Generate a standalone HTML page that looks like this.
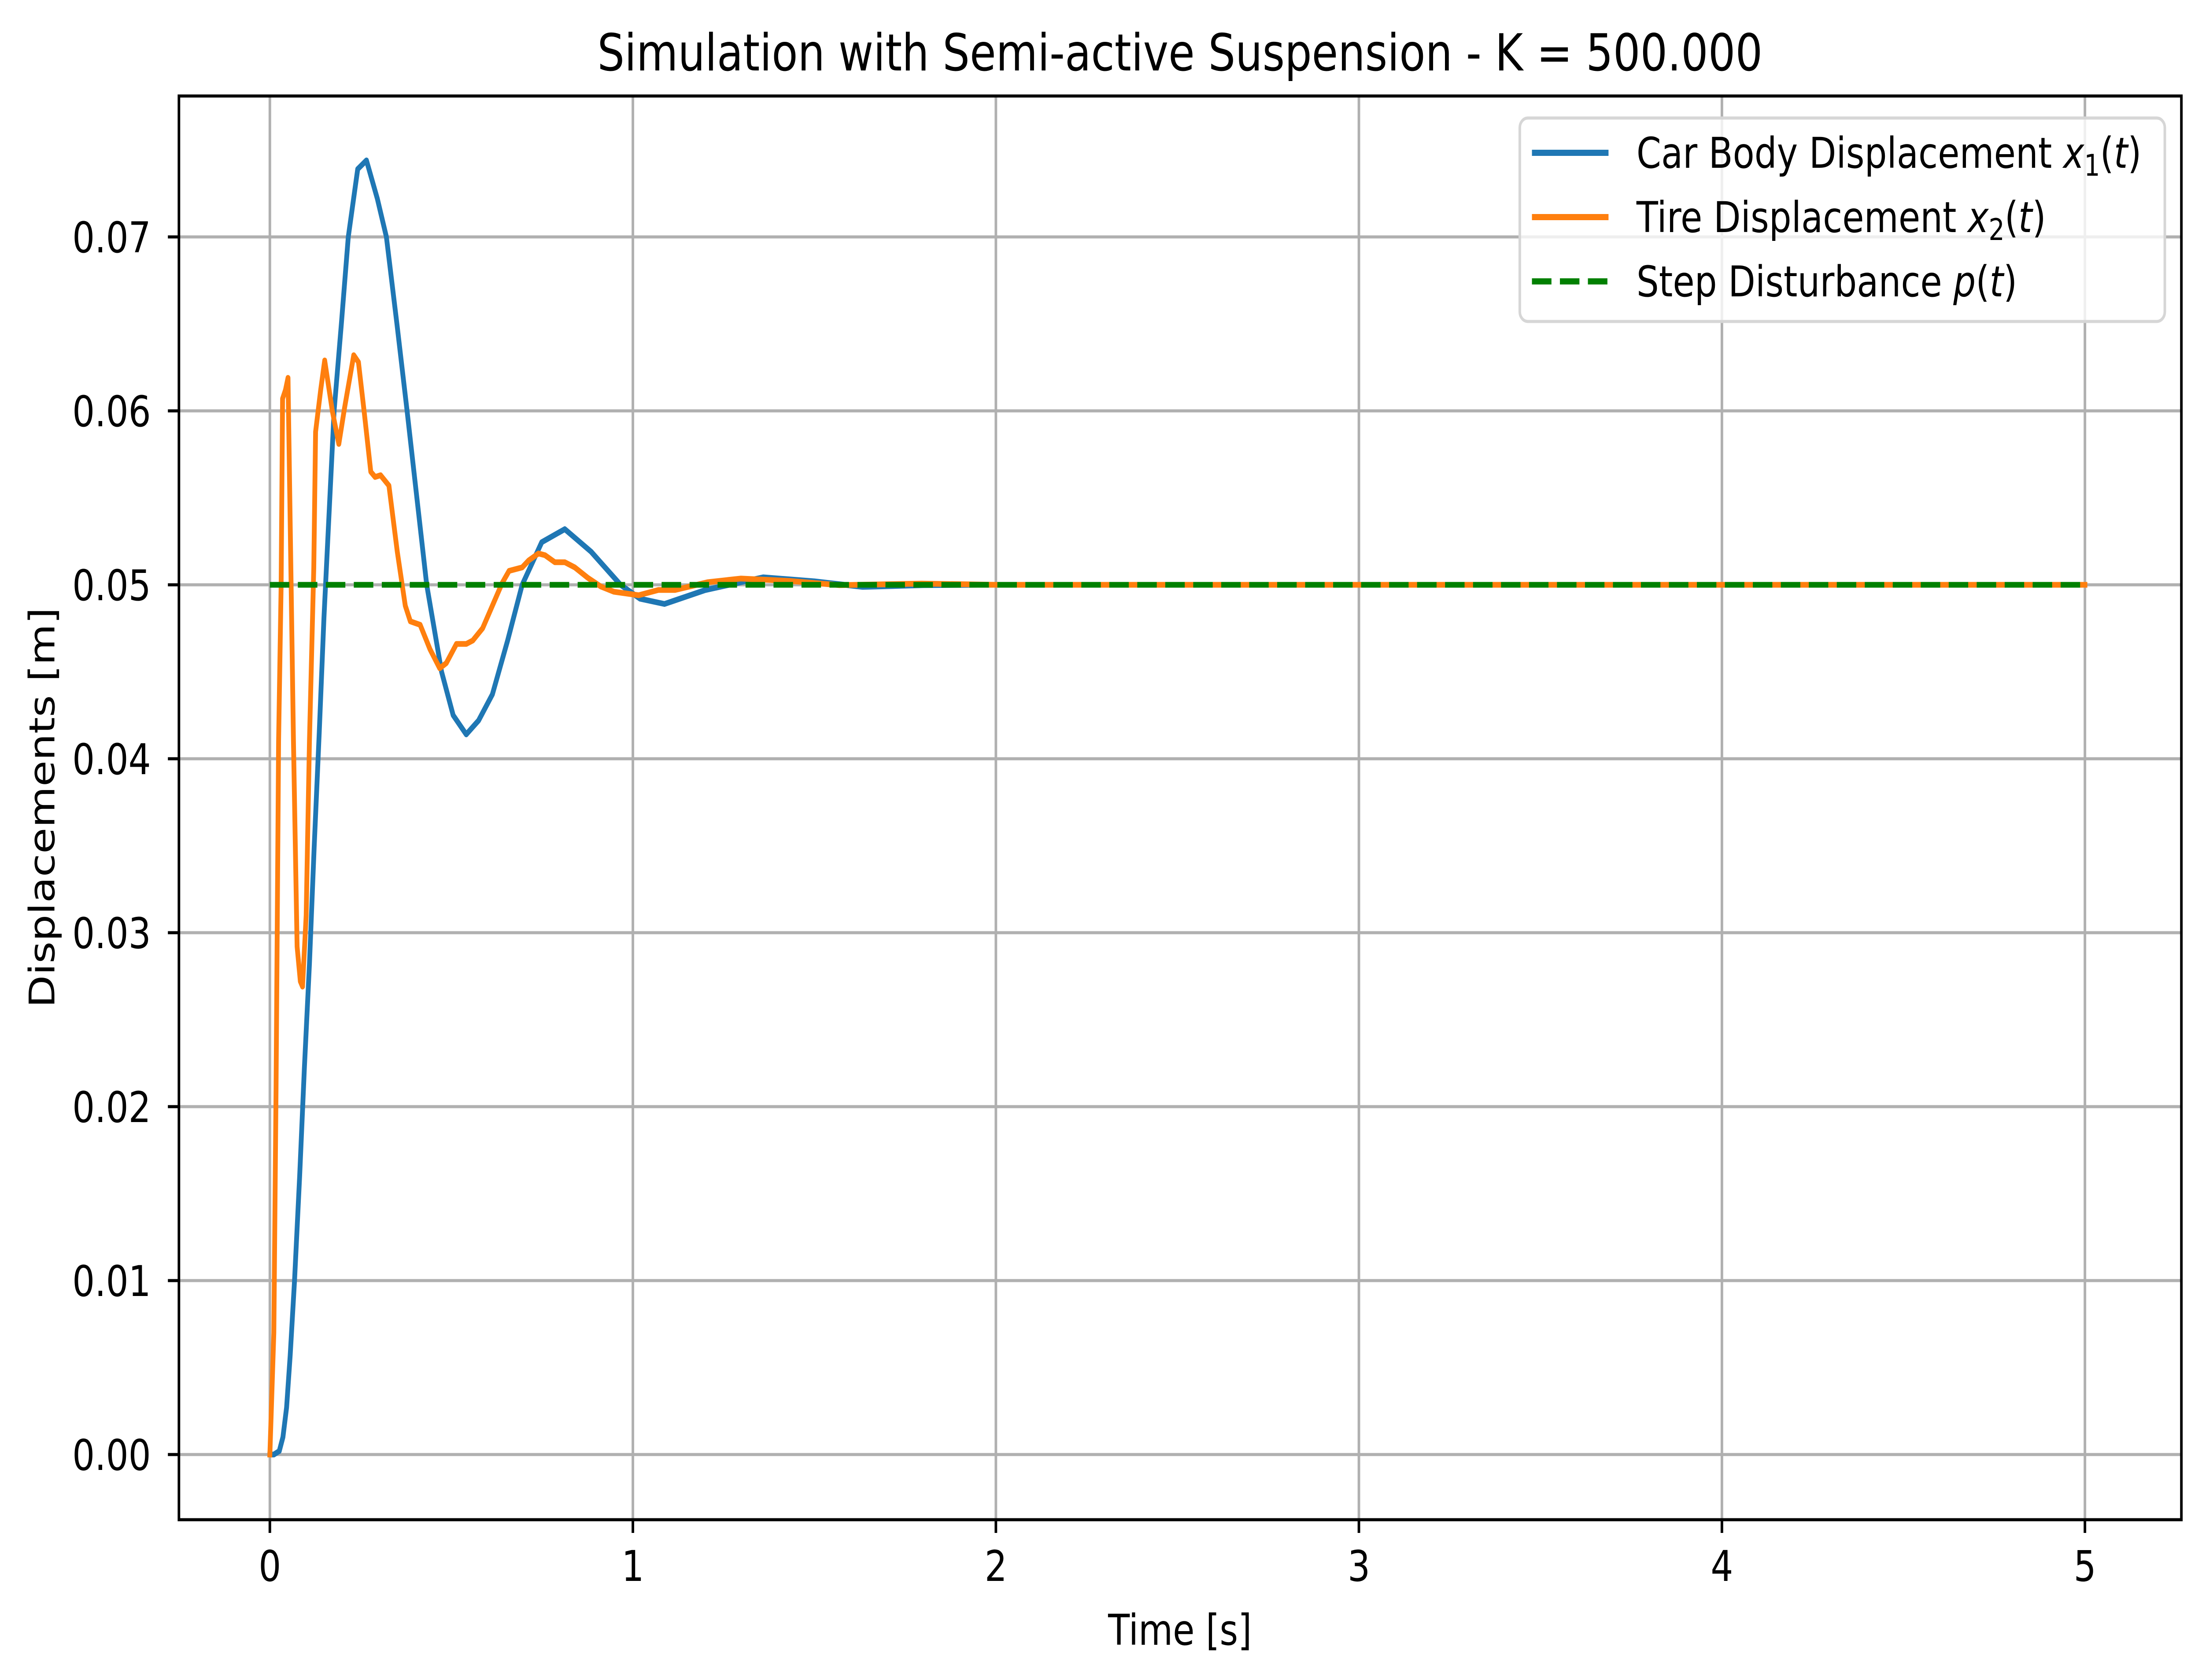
<!DOCTYPE html>
<html><head><meta charset="utf-8"><style>
html,body{margin:0;padding:0;background:#fff;overflow:hidden;width:100%;height:100%;}
svg{display:block;position:fixed;left:0;top:0;width:100vw;height:100vh;}
text{font-family:"DejaVu Sans","Liberation Sans",sans-serif;fill:#000;}
</style></head><body>
<svg id="chart" viewBox="0 0 5981 3815" preserveAspectRatio="none" xmlns="http://www.w3.org/2000/svg">
<rect x="0" y="0" width="5981" height="3815" fill="#fff"/>
<g id="grid"></g>
<g id="series"></g>
<rect x="486" y="218" width="5439" height="3233" fill="none" stroke="#000" stroke-width="7"/>
<g id="ticks"></g>
<text x="3205" y="160" font-size="116" text-anchor="middle">Simulation with Semi-active Suspension - K = 500.000</text>
<text x="3205" y="3735" font-size="96" text-anchor="middle">Time [s]</text>
<text x="0" y="0" font-size="96" text-anchor="middle" transform="translate(148,1834) rotate(-90)">Displacements [m]</text>
<g>
<rect x="4128" y="268" width="1752" height="462" rx="22" fill="#fff" fill-opacity="0.8" stroke="#d6d6d6" stroke-width="7"/>
<line x1="4161" y1="347" x2="4369" y2="347" stroke="#1f77b4" stroke-width="14"/>
<text x="4445" y="381" font-size="96">Car Body Displacement <tspan font-style="italic">x</tspan><tspan font-size="68" dy="18">1</tspan><tspan dy="-18">(</tspan><tspan font-style="italic">t</tspan>)</text>
<line x1="4161" y1="493" x2="4369" y2="493" stroke="#ff7f0e" stroke-width="14"/>
<text x="4445" y="527" font-size="96">Tire Displacement <tspan font-style="italic">x</tspan><tspan font-size="68" dy="18">2</tspan><tspan dy="-18">(</tspan><tspan font-style="italic">t</tspan>)</text>
<line x1="4161" y1="639" x2="4369" y2="639" stroke="#008000" stroke-width="14" stroke-dasharray="53,23"/>
<text x="4445" y="673" font-size="96">Step Disturbance <tspan font-style="italic">p</tspan>(<tspan font-style="italic">t</tspan>)</text>
</g>
</svg>
<script>
const xTicks = [0, 1, 2, 3, 4, 5];
const xTickLabels = ["0", "1", "2", "3", "4", "5"];
const yTicks = [0, 0.01, 0.02, 0.03, 0.04, 0.05, 0.06, 0.07];
const yTickLabels = ["0.00", "0.01", "0.02", "0.03", "0.04", "0.05", "0.06", "0.07"];
const tBody = [0,0.011,0.026,0.036,0.046,0.056,0.068,0.082,0.095,0.109,0.122,0.136,0.149,0.177,0.197,0.216,0.242,0.266,0.296,0.321,0.35,0.378,0.405,0.432,0.473,0.505,0.541,0.575,0.613,0.655,0.695,0.749,0.8125,0.885,0.966,1.02,1.087,1.2,1.359,1.5,1.632,1.8,1.95,5];
const xBody = [0,0,0.0002,0.001,0.0027,0.0057,0.010,0.016,0.0222,0.0282,0.0349,0.0415,0.0481,0.060,0.065,0.070,0.0739,0.0744,0.0722,0.070,0.065,0.060,0.055,0.050,0.045,0.0425,0.0414,0.0422,0.0437,0.0468,0.050,0.05245,0.0532,0.0519,0.050,0.0492,0.0489,0.0497,0.05043,0.0502,0.04988,0.04998,0.0500,0.05];
const tTire = [0,0.011,0.017,0.024,0.031,0.035,0.043,0.050,0.065,0.075,0.084,0.090,0.100,0.109,0.121,0.126,0.140,0.151,0.172,0.19,0.206,0.231,0.244,0.26,0.278,0.29,0.305,0.328,0.351,0.373,0.387,0.414,0.441,0.468,0.486,0.514,0.541,0.559,0.586,0.613,0.640,0.659,0.695,0.713,0.740,0.758,0.785,0.8125,0.84,0.876,0.912,0.948,1.016,1.07,1.116,1.206,1.297,1.433,1.569,1.795,2.0,5];
const xTire = [0,0.007,0.021,0.041,0.05,0.0607,0.0612,0.0619,0.041,0.0292,0.0272,0.0269,0.031,0.041,0.051,0.0588,0.0612,0.0629,0.060,0.0581,0.0602,0.0632,0.0628,0.0599,0.0565,0.0562,0.0563,0.0557,0.0519,0.0488,0.0479,0.0477,0.0463,0.0452,0.0455,0.0466,0.0466,0.0468,0.0475,0.0488,0.0501,0.0508,0.0510,0.0514,0.0518,0.0517,0.0513,0.0513,0.051,0.0504,0.0499,0.0496,0.0494,0.0497,0.0497,0.05015,0.05036,0.05022,0.04998,0.05007,0.05,0.05];
const tStep = [0, 5];
const pStep = [0.05, 0.05];

const NS = "http://www.w3.org/2000/svg";
const X0 = 486, X1 = 5925, Y0 = 218, Y1 = 3451;
function xs(t){ return 733 + t * 986; }
function ys(v){ return 3303 - v * 39500; }
function mk(tag, attrs, parent){
  const el = document.createElementNS(NS, tag);
  for (const k in attrs) el.setAttribute(k, attrs[k]);
  parent.appendChild(el);
  return el;
}
const grid = document.getElementById('grid');
const ticks = document.getElementById('ticks');
const series = document.getElementById('series');

xTicks.forEach((t, i) => {
  const g = mk('line', {x1: xs(t), x2: xs(t), y1: Y0, y2: Y1, stroke: '#b0b0b0', 'stroke-width': 7}, grid);
  
  
  const tk = mk('line', {x1: xs(t), x2: xs(t), y1: Y1, y2: Y1 + 30, stroke: '#000', 'stroke-width': 7}, ticks);
  
  
  const lb = mk('text', {x: xs(t), y: 3590, 'font-size': 96, 'text-anchor': 'middle'}, ticks);
  lb.textContent = xTickLabels[i];
  
  
});
yTicks.forEach((v, i) => {
  const g = mk('line', {x1: X0, x2: X1, y1: ys(v), y2: ys(v), stroke: '#b0b0b0', 'stroke-width': 7}, grid);
  
  
  const tk = mk('line', {x1: X0 - 30, x2: X0, y1: ys(v), y2: ys(v), stroke: '#000', 'stroke-width': 7}, ticks);
  
  
  const lb = mk('text', {x: 410, y: ys(v) + 35, 'font-size': 96, 'text-anchor': 'end'}, ticks);
  lb.textContent = yTickLabels[i];
  
  
});
function pts(ts, vs){ return ts.map((t, i) => xs(t).toFixed(1) + ',' + ys(vs[i]).toFixed(1)).join(' '); }
const lb1 = mk('polyline', {points: pts(tBody, xBody), fill: 'none', stroke: '#1f77b4', 'stroke-width': 13, 'stroke-linejoin': 'round', 'stroke-linecap': 'square'}, series);


const lb2 = mk('polyline', {points: pts(tTire, xTire), fill: 'none', stroke: '#ff7f0e', 'stroke-width': 13, 'stroke-linejoin': 'round', 'stroke-linecap': 'square'}, series);


const lb3 = mk('polyline', {points: pts(tStep, pStep), fill: 'none', stroke: '#008000', 'stroke-width': 13, 'stroke-dasharray': '53,23'}, series);


</script>
</body></html>
